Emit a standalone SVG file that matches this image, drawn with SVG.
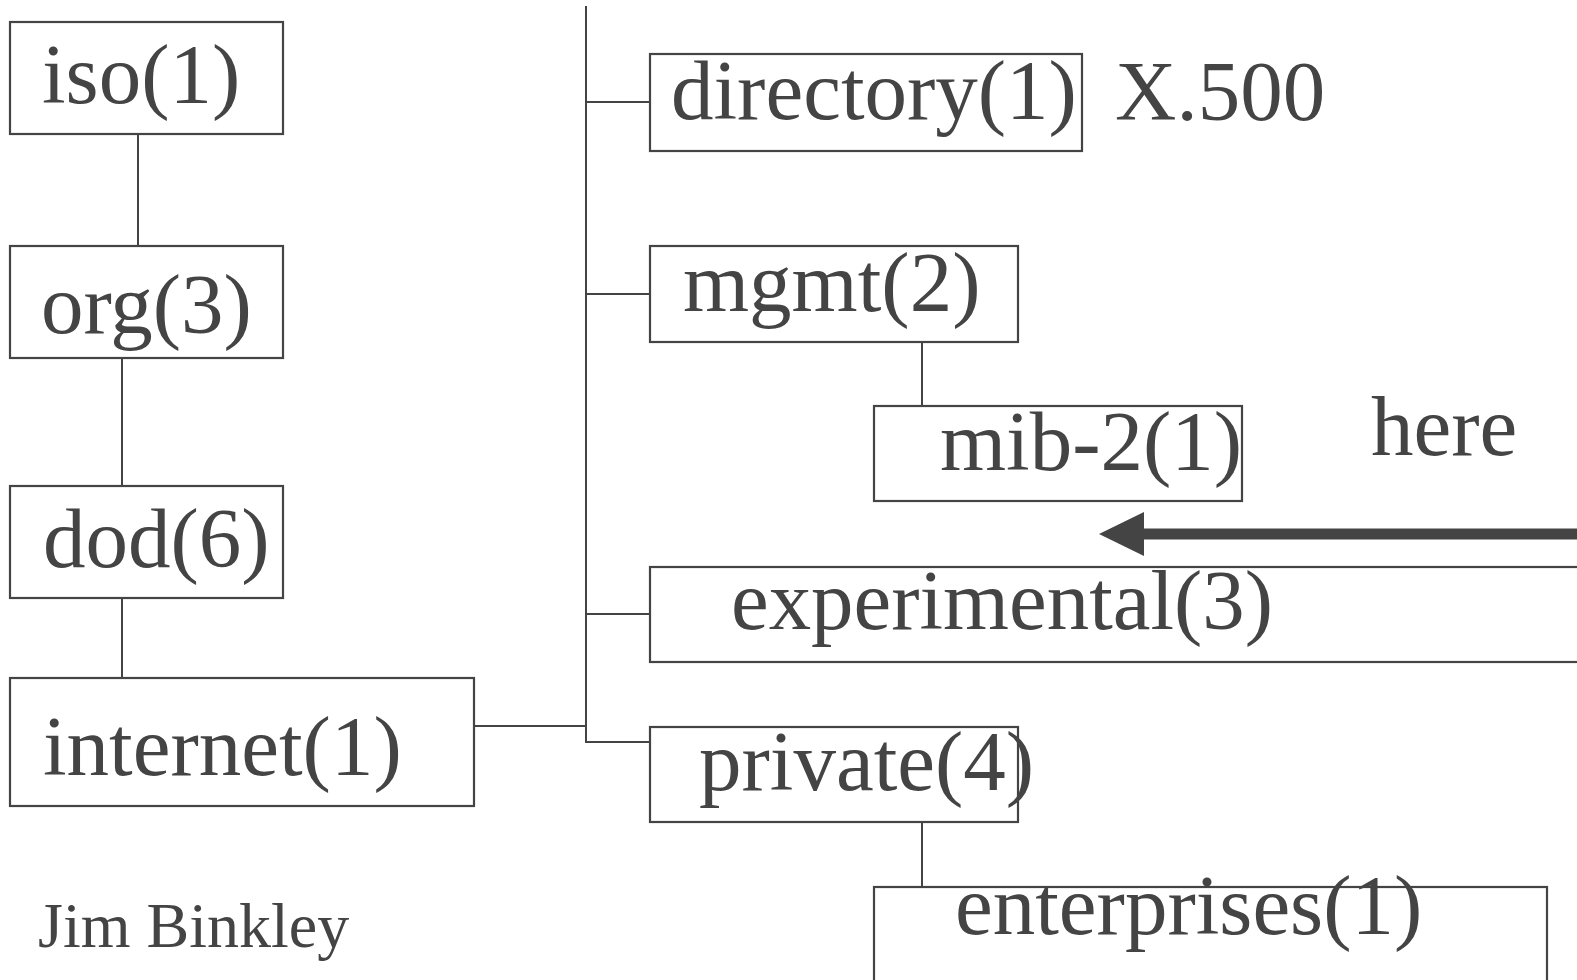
<svg xmlns="http://www.w3.org/2000/svg" width="1577" height="980" viewBox="0 0 1577 980">
<style>
.box{fill:none;stroke:#444;stroke-width:2.2}
.t{font-family:"Liberation Serif","Times New Roman",serif;font-size:85px;fill:#444}
.s{font-family:"Liberation Serif","Times New Roman",serif;font-size:64px;fill:#444}
.c{fill:none;stroke:#444;stroke-width:2}
</style>
<rect width="1577" height="980" fill="#fff"/>
<g id="connectors">
<line class="c" x1="138" y1="134" x2="138" y2="246"/>
<line class="c" x1="122" y1="358" x2="122" y2="486"/>
<line class="c" x1="122" y1="598" x2="122" y2="678"/>
<line class="c" x1="474" y1="726" x2="586" y2="726"/>
<line class="c" x1="586" y1="6" x2="586" y2="743"/>
<line class="c" x1="586" y1="102" x2="650" y2="102"/>
<line class="c" x1="586" y1="294" x2="650" y2="294"/>
<line class="c" x1="586" y1="614" x2="650" y2="614"/>
<line class="c" x1="585" y1="742" x2="650" y2="742"/>
<line class="c" x1="922" y1="342" x2="922" y2="406"/>
<line class="c" x1="922" y1="822" x2="922" y2="887"/>
</g>
<g id="iso"><rect class="box" x="10" y="22" width="273" height="112"/><text class="t" x="42" y="103">iso(1)</text></g>
<g id="org"><rect class="box" x="10" y="246" width="273" height="112"/><text class="t" x="41" y="333">org(3)</text></g>
<g id="dod"><rect class="box" x="10" y="486" width="273" height="112"/><text class="t" x="43" y="567">dod(6)</text></g>
<g id="internet"><rect class="box" x="10" y="678" width="464" height="128"/><text class="t" x="43" y="775">internet(1)</text></g>
<g id="directory"><rect class="box" x="650" y="54" width="432" height="97"/><text class="t" x="671" y="119">directory(1)</text></g>
<g id="x500"><text class="t" x="1115" y="120">X.500</text></g>
<g id="mgmt"><rect class="box" x="650" y="246" width="368" height="96"/><text class="t" x="683" y="311">mgmt(2)</text></g>
<g id="mib2"><rect class="box" x="874" y="406" width="368" height="95"/><text class="t" x="940" y="470">mib-2(1)</text></g>
<g id="here"><text class="t" x="1371" y="455">here</text></g>
<g id="arrow"><line x1="1140" y1="534" x2="1590" y2="534" stroke="#444" stroke-width="11"/><polygon points="1099,534 1144,512 1144,556" fill="#444"/></g>
<g id="experimental"><rect class="box" x="650" y="567" width="960" height="95"/><text class="t" x="731" y="629" textLength="542" lengthAdjust="spacingAndGlyphs">experimental(3)</text></g>
<g id="private"><rect class="box" x="650" y="727" width="368" height="95"/><text class="t" x="699" y="790">private(4)</text></g>
<g id="enterprises"><rect class="box" x="874" y="887" width="673" height="120"/><text class="t" x="955" y="934">enterprises(1)</text></g>
<g id="author"><text class="s" x="38" y="947">Jim Binkley</text></g>
</svg>
